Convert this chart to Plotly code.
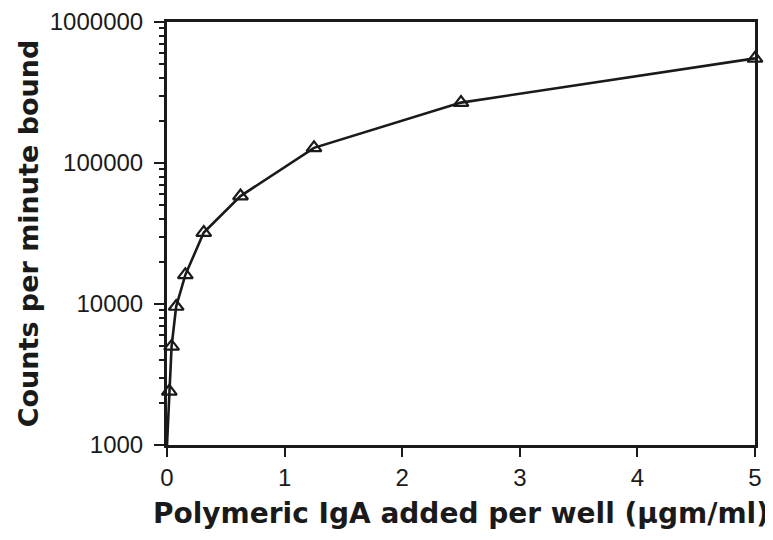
import plotly.graph_objects as go

# Data
iga_ugml = [0, 0.0195, 0.039, 0.078, 0.156, 0.3125, 0.625, 1.25, 2.5, 5]
cpm_bound = [1000, 2400, 5000, 9600, 16100, 32100, 58300, 128000, 268000, 552000]

x_ticks = [0, 1, 2, 3, 4, 5]
y_ticks = [1000, 10000, 100000, 1000000]
y_ticktext = ["1000", "10000", "100000", "1000000"]
y_minor = [m * d for d in (1000, 10000, 100000) for m in range(2, 10)]

ink = "#1a1a1a"

fig = go.Figure()
fig.add_trace(go.Scatter(
    x=iga_ugml, y=cpm_bound, mode="lines+markers",
    line=dict(color=ink, width=2.6),
    marker=dict(symbol="triangle-up-open", size=13, color=ink,
                line=dict(width=2.2, color=ink)),
    cliponaxis=False, showlegend=False,
))

tickfont = dict(family="Liberation Sans", size=24, color=ink)
xtitlefont = dict(family="DejaVu Sans", size=28, color=ink, weight="bold")
ytitlefont = dict(family="DejaVu Sans", size=27, color=ink, weight="bold")

# page body adds an 8px offset; size/margins compensate for it
fig.update_layout(
    width=765, height=532,
    margin=dict(l=159, r=18, t=14, b=95),
    paper_bgcolor="white", plot_bgcolor="white",
    xaxis=dict(
        range=[0, 5], tickvals=x_ticks, ticks="outside", ticklen=9, tickwidth=2,
        tickcolor=ink, showline=True, linewidth=3, linecolor=ink,
        mirror=True, showgrid=False, zeroline=False, tickfont=tickfont,
        ticklabeloverflow="allow", automargin=False,
        title=dict(text="Polymeric IgA added per well (μgm/ml)", font=xtitlefont, standoff=14),
    ),
    yaxis=dict(
        type="log", range=[3, 6], tickvals=y_ticks, ticktext=y_ticktext,
        ticks="outside", ticklen=10, tickwidth=2, tickcolor=ink,
        showline=True, linewidth=3, linecolor=ink, mirror=True,
        showgrid=False, zeroline=False, tickfont=tickfont, ticklabelstandoff=6,
        ticklabeloverflow="allow", automargin=False,
        minor=dict(tickvals=y_minor, ticks="outside", ticklen=5, tickwidth=2,
                   tickcolor=ink, showgrid=False),
        title=dict(text="Counts per minute bound", font=ytitlefont, standoff=4),
    ),
)

fig.write_html("out.html")
